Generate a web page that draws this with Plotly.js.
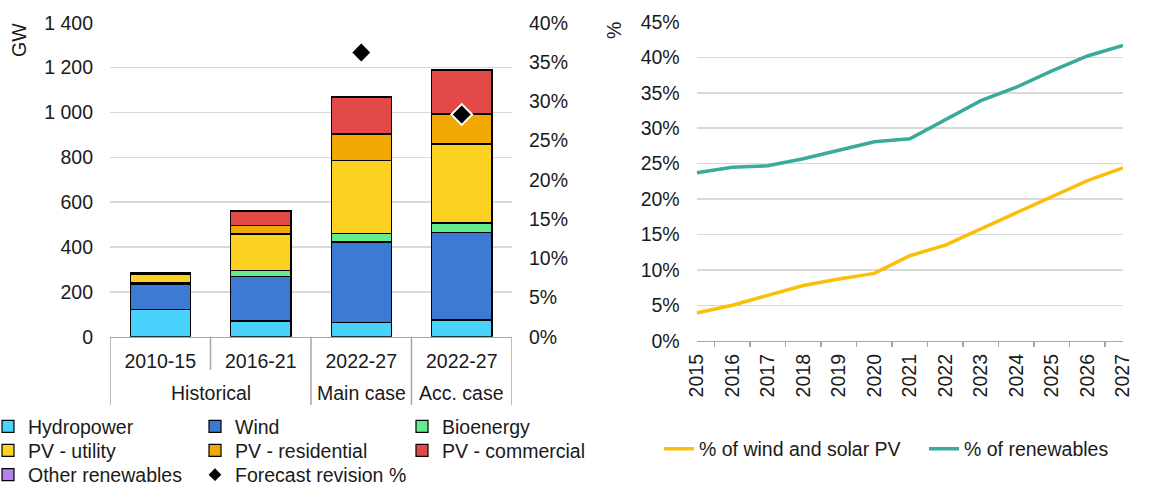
<!DOCTYPE html>
<html><head><meta charset="utf-8">
<script src="https://cdn.plot.ly/plotly-3.0.1.min.js"></script>
<style>html,body{margin:0;padding:0;background:#fff}#chart{width:1154px;height:486px}</style>
</head><body><div id="chart"></div>
<script>
// ---- Left chart: capacity additions (GW) ----
const groups = ['Historical', 'Historical', 'Main case', 'Acc. case'];
const periods = ['2010-15', '2016-21', '2022-27', '2022-27'];
const hydropower = [122, 70, 62, 74];
const wind = [113, 198, 360, 391];
const bioenergy = [4, 28, 39, 42];
const pvUtility = [39, 162, 324, 352];
const pvResidential = [2, 39, 119, 134];
const pvCommercial = [2, 62, 163, 195];
const otherRenewables = [3, 5, 5, 4];
const forecastRevision = [null, null, 0.362, 0.283];

// ---- Right chart: shares ----
const years = ['2015','2016','2017','2018','2019','2020','2021','2022','2023','2024','2025','2026','2027'];
const windSolarShare = [0.039, 0.050, 0.064, 0.078, 0.087, 0.095, 0.120, 0.135, 0.158, 0.181, 0.203, 0.226, 0.244];
const renewablesShare = [0.237, 0.245, 0.247, 0.257, 0.269, 0.281, 0.285, 0.312, 0.339, 0.358, 0.381, 0.402, 0.417];

const FONT = 'Liberation Sans, Arial, sans-serif';
const FS = 19.5;
const TXT = '#1a1a1a';
const GRID = '#d9d9d9';
const AXL = '#a6a6a6';

const W = 1154, H = 486, MB = 80, PH = H - MB;
const px = v => v / W, py = v => (PH - v) / PH;

const xIdx = periods.map((p, i) => i);
function barTrace(name, vals, color, legend) {
  return {type: 'bar', name: name, x: xIdx, y: vals, xaxis: 'x', yaxis: 'y',
    marker: {color: color, line: {color: '#000', width: 1.2}}, legend: legend};
}

const data = [
  barTrace('Hydropower', hydropower, '#48d2fc', 'legend'),
  barTrace('Wind', wind, '#3c7ad3', 'legend'),
  barTrace('Bioenergy', bioenergy, '#63ed8f', 'legend'),
  barTrace('PV - utility', pvUtility, '#fcd122', 'legend2'),
  barTrace('PV - residential', pvResidential, '#f2a802', 'legend2'),
  barTrace('PV - commercial', pvCommercial, '#e34946', 'legend2'),
  barTrace('Other renewables', otherRenewables, '#b283ea', 'legend3'),
  {type: 'scatter', mode: 'markers', name: 'Forecast revision %', x: xIdx, y: forecastRevision,
    xaxis: 'x', yaxis: 'y2', legend: 'legend5',
    marker: {symbol: 'diamond', size: 16, color: '#000', line: {color: '#fff', width: 2}}},
  {type: 'scatter', mode: 'lines', name: '% of wind and solar PV', x: years, y: windSolarShare,
    xaxis: 'x3', yaxis: 'y3', legend: 'legend4', line: {color: '#fbbf0a', width: 3.5}},
  {type: 'scatter', mode: 'lines', name: '% of renewables', x: years, y: renewablesShare,
    xaxis: 'x3', yaxis: 'y3', legend: 'legend4', line: {color: '#3aab9b', width: 3.5}}
];

// category group labels and dividers (axis decoration) derived from groups
const annotations = [];
const shapes = [];
const AXIS_Y = 336.7;
let start = 0;
for (let i = 0; i < groups.length; i++) {
  if (i === groups.length - 1 || groups[i + 1] !== groups[i]) {
    annotations.push({text: groups[i], xref: 'x', yref: 'paper', x: (start + i) / 2, y: py(393),
      xanchor: 'center', yanchor: 'middle', showarrow: false, font: {family: FONT, size: FS, color: TXT}});
    start = i + 1;
  }
}
for (let b = -0.5; b <= groups.length - 0.5; b += 1) {
  const iL = b - 0.5, iR = b + 0.5;
  const isOuter = iL < 0 || iR >= groups.length || groups[iL] !== groups[iR];
  shapes.push({type: 'line', xref: 'x', yref: 'paper', x0: b, x1: b, y0: py(AXIS_Y), y1: py(isOuter ? 405 : 370),
    line: {color: AXL, width: 1.5}});
}
annotations.push(
  {text: 'GW', xref: 'paper', yref: 'paper', x: px(19), y: py(40), xanchor: 'center', yanchor: 'middle',
    textangle: -90, showarrow: false, font: {family: FONT, size: FS, color: TXT}},
  {text: '%', xref: 'paper', yref: 'paper', x: px(614), y: py(31), xanchor: 'center', yanchor: 'middle',
    textangle: -90, showarrow: false, font: {family: FONT, size: FS, color: TXT}}
);

const legBase = {orientation: 'h', xanchor: 'left', yanchor: 'middle', entrywidth: 162, entrywidthmode: 'pixels',
  font: {family: FONT, size: FS, color: TXT}, bgcolor: 'rgba(0,0,0,0)', traceorder: 'normal', itemclick: false};

const layout = {
  width: W, height: H,
  margin: {l: 0, r: 0, t: 0, b: MB, autoexpand: false},
  paper_bgcolor: '#fff', plot_bgcolor: 'rgba(0,0,0,0)',
  font: {family: FONT, size: FS, color: TXT},
  separators: '. ',
  barmode: 'stack', bargap: 0.4,
  xaxis: {type: 'linear', domain: [px(110), px(512)], anchor: 'y', range: [-0.5, groups.length - 0.5],
    tickmode: 'array', tickvals: xIdx, ticktext: periods,
    showline: true, linecolor: AXL, linewidth: 1.5, ticks: '', showgrid: false, zeroline: false,
    ticklabelstandoff: 6, tickfont: {family: FONT, size: FS, color: TXT}},
  yaxis: {domain: [py(AXIS_Y), py(22.7)], anchor: 'x', range: [0, 1400], dtick: 200, tickformat: ',d',
    showgrid: true, gridcolor: GRID, gridwidth: 1.5, zeroline: false, showline: false, ticks: '',
    ticklabelstandoff: 16, tickfont: {family: FONT, size: FS, color: TXT}},
  yaxis2: {overlaying: 'y', side: 'right', anchor: 'x', range: [0, 0.4], dtick: 0.05, tickformat: '.0%',
    showgrid: false, zeroline: false, showline: false, ticks: '', ticklabelstandoff: 16,
    tickfont: {family: FONT, size: FS, color: TXT}},
  xaxis3: {type: 'category', domain: [px(696.7), px(1123)], anchor: 'y3',
    showline: true, linecolor: AXL, linewidth: 1.5, ticks: 'outside', tickson: 'boundaries', ticklen: 5,
    tickcolor: AXL, tickwidth: 1.5, tickangle: -90, showgrid: false, ticklabelstandoff: 4,
    tickfont: {family: FONT, size: FS, color: TXT}},
  yaxis3: {domain: [py(340.7), py(22)], anchor: 'x3', range: [0, 0.45], dtick: 0.05, tickformat: '.0%',
    showgrid: true, gridcolor: GRID, gridwidth: 1.5, zeroline: false, showline: false, ticks: '',
    ticklabelstandoff: 16, tickfont: {family: FONT, size: FS, color: TXT}},
  showlegend: true,
  legend: Object.assign({}, legBase, {x: px(-12), y: py(426.7)}),
  legend2: Object.assign({}, legBase, {x: px(-12), y: py(450.7)}),
  legend3: Object.assign({}, legBase, {x: px(-12), y: py(475)}),
  legend5: Object.assign({}, legBase, {x: px(195), y: py(475), entrywidth: 200, itemsizing: 'constant'}),
  legend4: Object.assign({}, legBase, {x: px(659), y: py(449), entrywidth: 220}),
  annotations: annotations,
  shapes: shapes
};

Plotly.newPlot('chart', data, layout, {displayModeBar: false, staticPlot: true});
</script>
</body></html>
